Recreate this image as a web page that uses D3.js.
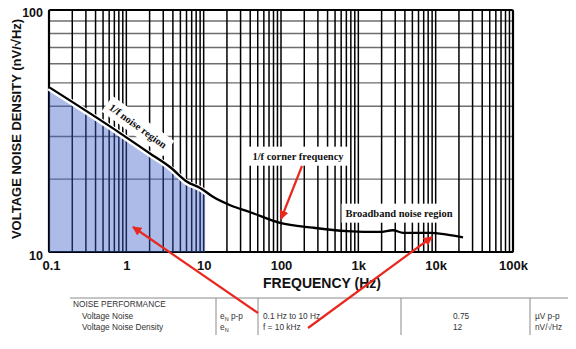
<!DOCTYPE html>
<html>
<head>
<meta charset="utf-8">
<script src="https://cdn.jsdelivr.net/npm/d3@7"></script>
<style>
  html, body { margin: 0; padding: 0; background: #fff; }
  svg { display: block; }
</style>
</head>
<body>
<svg id="chart" width="576" height="349"></svg>
<script>
// Voltage noise spectral density (nV/√Hz) vs frequency (Hz)
const freqHz    = [0.1, 0.83, 2.0, 3.7, 6.1, 9.0, 13.2, 22, 40, 97, 260, 710, 1900, 2800, 3800, 8500, 14000, 22600];
const densityNv = [48, 31, 25.6, 22.4, 19.5, 18.4, 16.9, 15.6, 14.6, 13.2, 12.6, 12.2, 12.1, 12.3, 12.0, 12.0, 11.8, 11.5];

const xTickValues = [0.1, 1, 10, 100, 1000, 10000, 100000];
const xTickLabels = ["0.1", "1", "10", "100", "1k", "10k", "100k"];
const yTickValues = [10, 100];
const yTickLabels = ["10", "100"];

// 1/f region highlighted up to this frequency
const flickerEndHz = 10;

// Spec table rows: parameter, symbol, subscript, condition, value, unit
const specParams     = ["Voltage Noise", "Voltage Noise Density"];
const specSymbols    = ["e", "e"];
const specSubs       = ["N", "N"];
const specSymbolTail = [" p-p", ""];
const specConditions = ["0.1 Hz to 10 Hz", "f = 10 kHz"];
const specValues     = ["0.75", "12"];
const specUnits      = ["µV p-p", "nV/√Hz"];

const svg = d3.select("#chart");
const x = d3.scaleLog().domain([0.1, 1e5]).range([49, 513]);
const y = d3.scaleLog().domain([10, 100]).range([252, 10]);

const sans = "'Liberation Sans', Arial, sans-serif";
const serif = "'Liberation Serif', 'Times New Roman', serif";
const red = "#e8281e";

// defs: arrowhead + clip for the 1/f region
const defs = svg.append("defs");
defs.append("marker").attr("id", "arrow")
  .attr("viewBox", "0 0 10 10").attr("refX", 9).attr("refY", 5)
  .attr("markerWidth", 4.2).attr("markerHeight", 4.2).attr("orient", "auto")
  .append("path").attr("d", "M0,0 L10,5 L0,10 Z").attr("fill", red);
defs.append("clipPath").attr("id", "flicker")
  .append("rect")
  .attr("x", x(0.1) - 2).attr("y", y(100))
  .attr("width", x(flickerEndHz) - x(0.1) + 3.5).attr("height", y(10) - y(100) + 2);

// grid: vertical at every 1..9 x decade, horizontal at 20..90
const vLines = [];
for (let e = -1; e <= 4; e++) for (let k = 1; k <= 9; k++) vLines.push(k * Math.pow(10, e));
vLines.push(1e5);
const hLines = [20, 30, 40, 50, 60, 70, 80, 90];

const grid = svg.append("g");
grid.selectAll("line.h").data(hLines).join("line")
  .attr("x1", x(0.1)).attr("x2", x(1e5))
  .attr("y1", d => y(d)).attr("y2", d => y(d))
  .attr("stroke", "#6e6e6e").attr("stroke-width", 1.4);
grid.selectAll("line.v").data(vLines).join("line")
  .attr("x1", d => x(d)).attr("x2", d => x(d))
  .attr("y1", y(100)).attr("y2", y(10))
  .attr("stroke", "#000").attr("stroke-width", 1.5);

// frame
svg.append("rect")
  .attr("x", x(0.1)).attr("y", y(100))
  .attr("width", x(1e5) - x(0.1)).attr("height", y(10) - y(100))
  .attr("fill", "none").attr("stroke", "#000").attr("stroke-width", 2.2).attr("rx", 1.5);

// annotation text with white boxes that break the grid
function boxedLabel(cx, cy, text, angle) {
  const g = svg.append("g").attr("transform", `translate(${cx},${cy}) rotate(${angle || 0})`);
  const t = g.append("text").text(text)
    .attr("text-anchor", "middle").attr("dy", "0.35em")
    .attr("font-family", serif).attr("font-weight", "bold").attr("font-size", 10.5)
    .attr("fill", "#111");
  const b = t.node().getBBox();
  g.insert("rect", "text")
    .attr("x", b.x - 4).attr("y", b.y - 4).attr("width", b.width + 8).attr("height", b.height + 8)
    .attr("fill", "#fff");
  return g;
}

const lineGen = d3.line()
  .x((d, i) => x(freqHz[i])).y(d => y(d))
  .curve(d3.curveMonotoneX);
const areaGen = d3.area()
  .x((d, i) => x(freqHz[i])).y0(y(10)).y1(d => y(d))
  .curve(d3.curveMonotoneX);

// labels
boxedLabel(138, 126, "1/f noise region", 36);
boxedLabel(298, 156, "1/f corner frequency", 0);
boxedLabel(399, 213, "Broadband noise region", 0);

// shaded 1/f region (translucent so the grid shows through as navy)
svg.append("path").datum(densityNv)
  .attr("d", areaGen)
  .attr("clip-path", "url(#flicker)")
  .attr("fill", "rgb(58,92,200)").attr("fill-opacity", 0.42);

// white halo between curve and shaded region
svg.append("path").datum(densityNv)
  .attr("d", lineGen)
  .attr("clip-path", "url(#flicker)")
  .attr("fill", "none").attr("stroke", "#fff").attr("stroke-width", 5.5)
  .attr("transform", "translate(0,0.8)");

// noise density curve
svg.append("path").datum(densityNv)
  .attr("d", lineGen)
  .attr("fill", "none").attr("stroke", "#000").attr("stroke-width", 2.3)
  .attr("stroke-linejoin", "round");

// axes (labels only)
const xAxis = svg.append("g").attr("transform", `translate(0,${y(10)})`)
  .call(d3.axisBottom(x).tickValues(xTickValues)
    .tickFormat((d, i) => xTickLabels[i]).tickSize(0).tickPadding(9));
xAxis.select(".domain").remove();
xAxis.selectAll("text")
  .attr("font-family", sans).attr("font-weight", "bold").attr("font-size", 13).attr("fill", "#111")
  .attr("dx", (d) => d === 0.1 ? 2 : 0);

const yAxis = svg.append("g").attr("transform", `translate(${x(0.1)},0)`)
  .call(d3.axisLeft(y).tickValues(yTickValues)
    .tickFormat((d, i) => yTickLabels[i]).tickSize(0).tickPadding(6));
yAxis.select(".domain").remove();
yAxis.selectAll("text")
  .attr("font-family", sans).attr("font-weight", "bold").attr("font-size", 12.5).attr("fill", "#111")
  .attr("dy", (d) => d === 10 ? "0.6em" : "0.55em");

// axis titles
svg.append("text").text("FREQUENCY (Hz)")
  .attr("x", 322).attr("y", 288).attr("text-anchor", "middle")
  .attr("font-family", sans).attr("font-weight", "bold").attr("font-size", 14).attr("fill", "#111");
svg.append("text").text("VOLTAGE NOISE DENSITY (nV/√Hz)")
  .attr("transform", "translate(21,129) rotate(-90)").attr("text-anchor", "middle")
  .attr("font-family", sans).attr("font-weight", "bold").attr("font-size", 13).attr("fill", "#111");

// spec table
const tbl = svg.append("g").attr("font-family", sans).attr("font-size", 8.3).attr("fill", "#333");
tbl.append("line").attr("x1", 70).attr("x2", 568).attr("y1", 298).attr("y2", 298)
  .attr("stroke", "#8a8a8a").attr("stroke-width", 1);
[216, 258, 401, 530].forEach(cx => {
  tbl.append("line").attr("x1", cx).attr("x2", cx).attr("y1", 298).attr("y2", 335)
    .attr("stroke", "#8a8a8a").attr("stroke-width", 1);
});
tbl.append("text").text("NOISE PERFORMANCE").attr("x", 73).attr("y", 307);
const rowY = [319, 330];
specParams.forEach((p, i) => {
  tbl.append("text").text(p).attr("x", 82).attr("y", rowY[i]);
  const s = tbl.append("text").attr("x", 220).attr("y", rowY[i]);
  s.append("tspan").text(specSymbols[i]);
  s.append("tspan").text(specSubs[i]).attr("font-size", 5.5).attr("dy", 1.5);
  s.append("tspan").text(specSymbolTail[i]).attr("dy", -1.5);
  tbl.append("text").text(specConditions[i]).attr("x", 263).attr("y", rowY[i]);
  tbl.append("text").text(specValues[i]).attr("x", 453).attr("y", rowY[i]);
  tbl.append("text").text(specUnits[i]).attr("x", 535).attr("y", rowY[i]);
});

// red pointer arrows
const arrows = [
  [[258, 313], [133, 227]],
  [[302, 166], [281, 219]],
  [[308, 328], [432, 237]]
];
svg.selectAll("line.arrow").data(arrows).join("line")
  .attr("x1", d => d[0][0]).attr("y1", d => d[0][1])
  .attr("x2", d => d[1][0]).attr("y2", d => d[1][1])
  .attr("stroke", red).attr("stroke-width", 2.2)
  .attr("marker-end", "url(#arrow)");
</script>
</body>
</html>
